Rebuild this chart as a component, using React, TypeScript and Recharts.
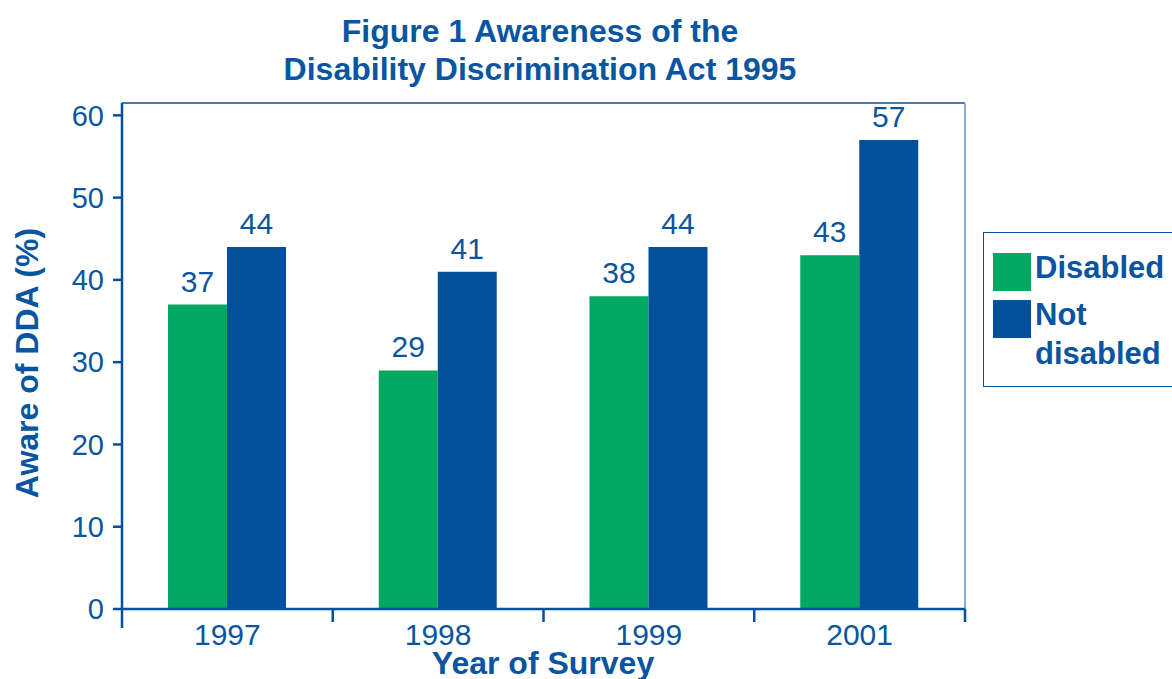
import React from "react";
import {
  BarChart,
  Bar,
  XAxis,
  YAxis,
  LabelList,
  ReferenceLine,
} from "recharts";

const years = ["1997", "1998", "1999", "2001"];
const disabled = [37, 29, 38, 43];
const notDisabled = [44, 41, 44, 57];
const yTicks = [0, 10, 20, 30, 40, 50, 60];
const Y_MAX = 61.5;

const GREEN = "#00a862";
const BLUE = "#03519c";
const TEXT = "#0a55a0";
const FRAME = "#8aabd4";
const FONT = "'Liberation Sans', Arial, Helvetica, sans-serif";

const W = 1172;
const H = 679;
const PLOT_LEFT = 122;
const PLOT_RIGHT = 965;
const PLOT_TOP = 103;
const PLOT_BOTTOM = 609;
const STEP = (PLOT_RIGHT - PLOT_LEFT) / years.length;

const data = years.map((year, i) => ({
  year,
  disabled: disabled[i],
  notDisabled: notDisabled[i],
}));

// category ticks sit on the boundaries between years, labels in the middle
function YearTick(props: any) {
  const { x, y, payload, index } = props;
  const left = x - STEP / 2;
  return (
    <g>
      <line x1={left} y1={y - 8} x2={left} y2={y + (index === 0 ? 11 : 5)} stroke={BLUE} strokeWidth={2.5} />
      {index === years.length - 1 && (
        <line x1={x + STEP / 2} y1={y - 8} x2={x + STEP / 2} y2={y + 5} stroke={BLUE} strokeWidth={2.5} />
      )}
      <text x={x} y={y + 28} textAnchor="middle" fill={TEXT} fontSize={30} fontFamily={FONT}>
        {payload.value}
      </text>
    </g>
  );
}

const legendItems = [
  { color: GREEN, lines: ["Disabled"], top: 252 },
  { color: BLUE, lines: ["Not", "disabled"], top: 299 },
];

function LegendBox() {
  return (
    <div
      style={{
        position: "absolute",
        left: 983,
        top: 232,
        width: 200,
        height: 155,
        border: `1.5px solid ${BLUE}`,
        boxSizing: "border-box",
        fontFamily: FONT,
        fontWeight: 700,
        fontSize: 31,
        color: TEXT,
        lineHeight: "39px",
      }}
    >
      {legendItems.map((it) => (
        <React.Fragment key={it.lines[0]}>
          <span
            style={{
              position: "absolute",
              left: 9,
              top: it.top - 232,
              width: 38,
              height: 38,
              background: it.color,
            }}
          />
          <div style={{ position: "absolute", left: 51, top: it.top - 232 - 5, whiteSpace: "nowrap" }}>
            {it.lines.map((l) => (
              <div key={l}>{l}</div>
            ))}
          </div>
        </React.Fragment>
      ))}
    </div>
  );
}

export default function App() {
  return (
    <div style={{ position: "absolute", left: 0, top: 0, width: W, height: H, background: "#fff", overflow: "hidden", fontFamily: FONT }}>
      <div
        style={{
          position: "absolute",
          left: 0,
          width: 1080,
          top: 12,
          textAlign: "center",
          color: TEXT,
          fontWeight: 700,
          fontSize: 32,
          lineHeight: "38px",
        }}
      >
        Figure 1 Awareness of the
        <br />
        Disability Discrimination Act 1995
      </div>

      <div
        style={{
          position: "absolute",
          left: 27,
          top: 363,
          transform: "translate(-50%, -50%) rotate(-90deg)",
          whiteSpace: "nowrap",
          color: TEXT,
          fontWeight: 700,
          fontSize: 32,
          lineHeight: "36px",
        }}
      >
        Aware of DDA (%)
      </div>

      <div
        style={{
          position: "absolute",
          left: 543,
          top: 663,
          transform: "translate(-50%, -50%)",
          whiteSpace: "nowrap",
          color: TEXT,
          fontWeight: 700,
          fontSize: 32,
          lineHeight: "20px",
        }}
      >
        Year of Survey
      </div>

      <BarChart
        width={W}
        height={H}
        data={data}
        margin={{ top: PLOT_TOP, right: W - PLOT_RIGHT, bottom: 0, left: 0 }}
        barCategoryGap={46}
        barGap={0}
      >
        <XAxis
          dataKey="year"
          axisLine={{ stroke: BLUE, strokeWidth: 2.5 }}
          tickLine={false}
          tick={<YearTick />}
          interval={0}
          height={H - PLOT_BOTTOM}
        />
        <YAxis
          domain={[0, Y_MAX]}
          ticks={yTicks}
          width={PLOT_LEFT}
          axisLine={{ stroke: BLUE, strokeWidth: 2.5 }}
          tickLine={{ stroke: BLUE, strokeWidth: 2.5 }}
          tickSize={9}
          tickMargin={9}
          tick={{ fill: TEXT, fontSize: 29, fontFamily: FONT }}
        />
        {/* frame: dark top edge, light right edge */}
        <ReferenceLine y={Y_MAX} stroke={BLUE} strokeWidth={1.5} />
        <ReferenceLine x="2001" position="end" stroke={FRAME} strokeWidth={2} />
        <Bar dataKey="disabled" name="Disabled" fill={GREEN} isAnimationActive={false}>
          <LabelList dataKey="disabled" position="top" offset={13} fill={TEXT} fontSize={30} fontFamily={FONT} />
        </Bar>
        <Bar dataKey="notDisabled" name="Not disabled" fill={BLUE} isAnimationActive={false}>
          <LabelList dataKey="notDisabled" position="top" offset={13} fill={TEXT} fontSize={30} fontFamily={FONT} />
        </Bar>
      </BarChart>

      <LegendBox />
    </div>
  );
}
